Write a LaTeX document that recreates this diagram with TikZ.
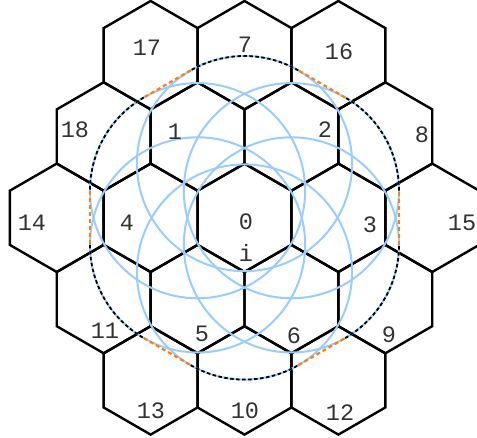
\documentclass[tikz,border=0pt]{standalone}
\usepackage{fontspec}
\setmonofont{Liberation Mono}
\usetikzlibrary{calc}
\definecolor{cblue}{RGB}{153,204,255}
\definecolor{corange}{RGB}{255,127,14}
\definecolor{ctext}{RGB}{50,50,50}
\begin{document}
\begin{tikzpicture}[x=1pt,y=1pt,
  hexline/.style={black, line width=2.4pt, line join=miter},
  ring/.style={cblue, line width=2pt},
  bdash/.style={black, line width=1.8pt, dash pattern=on 3.5pt off 2.5pt},
  odash/.style={corange, line width=2.2pt, dash pattern=on 4pt off 3pt},
  lab/.style={font=\ttfamily\fontsize{23.5}{23.5}\selectfont, text=ctext, inner sep=0pt}]
\useasboundingbox (0,0) rectangle (477,438);
\pgfmathsetmacro\cx{244.5}
\pgfmathsetmacro\cy{220.2}
\pgfmathsetmacro\s{54.2}
\pgfmathsetmacro\w{93.875}
\pgfmathsetmacro\rr{107.6}
% hexagonal cells
\foreach \n/\dx/\row in {17/-1/-2,7/0/-2,16/1/-2,18/-1.5/-1,1/-0.5/-1,2/0.5/-1,8/1.5/-1,14/-2/0,4/-1/0,0/0/0,3/1/0,15/2/0,11/-1.5/1,5/-0.5/1,6/0.5/1,9/1.5/1,13/-1/2,10/0/2,12/1/2}{
  \coordinate (h\n) at ({\cx+(\dx)*\w}, {\cy-(\row)*1.5*\s});
  \draw[hexline, shift={(h\n)}] (30:\s) -- (90:\s) -- (150:\s) -- (210:\s) -- (270:\s) -- (330:\s) -- cycle;
}
% vertices of the central cell
\foreach \k in {0,...,5}{
  \pgfmathsetmacro\a{30+60*\k}
  \coordinate (v\k) at ($(h0)+(\a:\s)$);
}
% blue circles
\foreach \k in {0,...,5}{
  \draw[ring] (v\k) circle[radius=\rr];
}
% rounded hexagon: arcs
\foreach \k in {0,...,5}{
  \pgfmathsetmacro\a{30+60*\k}
  \draw[bdash] ($(v\k)+(\a-30:\rr)$) arc[start angle=\a-30, end angle=\a+30, radius=\rr];
}
% rounded hexagon: straight parts
\foreach \k/\j in {0/1,1/2,2/3,3/4,4/5,5/0}{
  \pgfmathsetmacro\a{60+60*\k}
  \coordinate (p\k) at ($(v\k)+(\a:\rr)$);
  \coordinate (q\k) at ($(v\j)+(\a:\rr)$);
  \draw[odash] (p\k) -- (q\k);
}
% labels
\node[lab] (l17) at (147,390) {17};
\node[lab] (l7)  at (245,393) {7};
\node[lab] (l16) at (339,386) {16};
\node[lab] (l18) at (75,308) {18};
\node[lab] (l1)  at (175,306) {1};
\node[lab] (l2)  at (325,308) {2};
\node[lab] (l8)  at (422,303) {8};
\node[lab] (l14) at (32,215) {14};
\node[lab] (l4)  at (127,215) {4};
\node[lab] (l0)  at (246,216) {0};
\node[lab] (l3)  at (370,213) {3};
\node[lab] (l15) at (462,215) {15};
\node[lab] (li)  at (246,185) {i};
\node[lab] (l11) at (105,107) {11};
\node[lab] (l5)  at (202,104) {5};
\node[lab] (l6)  at (294,102) {6};
\node[lab] (l9)  at (389,103) {9};
\node[lab] (l13) at (151,27) {13};
\node[lab] (l10) at (245,27) {10};
\node[lab] (l12) at (340,25) {12};
\end{tikzpicture}
\end{document}
